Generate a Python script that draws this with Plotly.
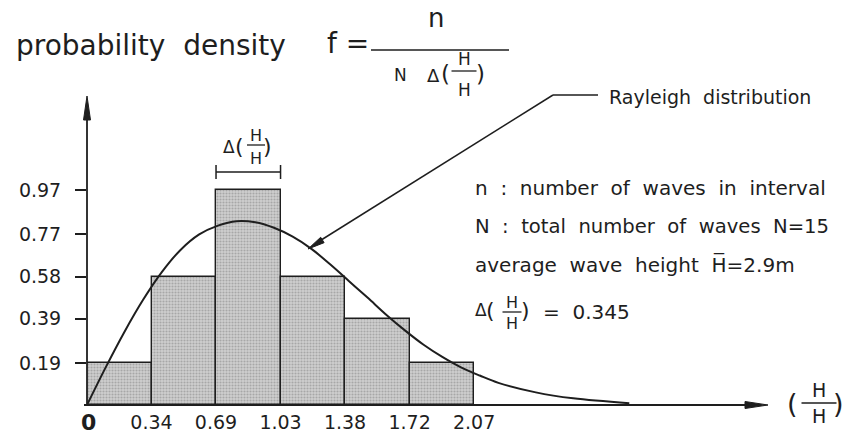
import plotly.graph_objects as go

# ---------------- data ----------------
bin_edges = [0.0, 0.345, 0.69, 1.035, 1.38, 1.725, 2.07]
x_tick_labels = ["0.34", "0.69", "1.03", "1.38", "1.72", "2.07"]
bar_heights = [0.19, 0.58, 0.97, 0.58, 0.39, 0.19]
y_tick_vals = [0.19, 0.39, 0.58, 0.77, 0.97]
y_tick_labels = ["0.19", "0.39", "0.58", "0.77", "0.97"]
curve_x = [0, 0.1, 0.2, 0.3, 0.4, 0.5, 0.6, 0.7, 0.8, 0.9, 1.0, 1.1, 1.2, 1.3,
           1.4, 1.5, 1.6, 1.7, 1.8, 1.9, 2.0, 2.1, 2.2, 2.4, 2.6, 2.9]
curve_y = [0, 0.17, 0.33, 0.475, 0.60, 0.70, 0.77, 0.81, 0.83, 0.825, 0.80, 0.76,
           0.705, 0.635, 0.56, 0.485, 0.408, 0.337, 0.272, 0.217, 0.17, 0.133,
           0.10, 0.057, 0.03, 0.008]

# ---------------- geometry helpers ----------------
W, H = 846, 434
ML, MB = 87, 29
PW, PH = W - ML, H - MB
XS, YS = 187.0, 221.5  # px per data unit


def P(px, py):
    return (px - ML) / PW, (H - MB - py) / PH


FONT = "DejaVu Sans"
INK = "#1e1e1e"

centers = [(a + b) / 2 for a, b in zip(bin_edges[:-1], bin_edges[1:])]
delta = bin_edges[1] - bin_edges[0]

fig = go.Figure()
fig.add_trace(go.Bar(
    x=centers, y=bar_heights, width=delta,
    marker=dict(color="#c6c6c6", line=dict(color=INK, width=1.4),
                pattern=dict(shape=".", fgcolor="#808080", bgcolor="#cfcfcf",
                             size=3, solidity=0.4)),
    hoverinfo="skip", showlegend=False))
fig.add_trace(go.Scatter(
    x=curve_x, y=curve_y, mode="lines",
    line=dict(color=INK, width=2, shape="spline", smoothing=1.0),
    hoverinfo="skip", showlegend=False))

annotations = []
shapes = []


def text(s, px, py, size, xanchor="center", bold=False):
    x, y = P(px, py)
    annotations.append(dict(
        text=f"<b>{s}</b>" if bold else s, x=x, y=y, xref="paper", yref="paper",
        xanchor=xanchor, yanchor="middle", showarrow=False,
        font=dict(family=FONT, size=size, color=INK)))


def line(p0, p1, width=1.5):
    x0, y0 = P(*p0)
    x1, y1 = P(*p1)
    shapes.append(dict(type="line", xref="paper", yref="paper",
                       x0=x0, y0=y0, x1=x1, y1=y1,
                       line=dict(color=INK, width=width)))


def arrowhead(tail, tip, length, half):
    dx, dy = tip[0] - tail[0], tip[1] - tail[1]
    n = (dx * dx + dy * dy) ** 0.5
    ux, uy = dx / n, dy / n
    bx, by = tip[0] - ux * length, tip[1] - uy * length
    pts = [tip, (bx - uy * half, by + ux * half), (bx + uy * half, by - ux * half)]
    pp = [P(*p) for p in pts]
    path = "M {},{} L {},{} L {},{} Z".format(*[v for p in pp for v in p])
    shapes.append(dict(type="path", xref="paper", yref="paper", path=path,
                       fillcolor=INK, line=dict(color=INK, width=1)))


def hfrac(xc, ybar, barw, up_dy, low_dy, hsize):
    text("H", xc, ybar - up_dy, hsize)
    text("H", xc, ybar + low_dy, hsize)
    line((xc - barw / 2, ybar), (xc + barw / 2, ybar), 1.3)


NB = "\u00a0"
S2 = NB + NB

# ---- axes (arrows) ----
line((84, 405), (750, 405), 1.8)
arrowhead((84, 405), (768, 405), 23, 3.5)
line((87, 406), (87, 115), 1.8)
arrowhead((87, 405), (87, 96), 24, 3.5)
text("0", 88, 422, 22, bold=True)

# ---- title with fraction ----
text("probability" + S2 + "density", 14, 45, 28, xanchor="left")
text("f" + NB + "=", 325, 44, 28, xanchor="left")
text("n", 436, 18, 26)
line((371, 50), (509, 50), 1.5)
text("N", 400, 75, 17)
text("\u0394", 433, 75, 18)
text("(", 445, 74, 23)
hfrac(464, 71, 25, 12, 19, 17)
text(")", 480, 74, 23)

# ---- bracket above the middle bar ----
bx0, bx1 = ML + bin_edges[2] * XS, ML + bin_edges[3] * XS
line((bx0, 172), (bx1, 172), 1.5)
line((bx0, 165), (bx0, 179), 1.5)
line((bx1, 165), (bx1, 179), 1.5)
text("\u0394", 229, 147, 17)
text("(", 239, 146, 22)
hfrac(256, 145, 18, 10, 13, 16)
text(")", 267, 146, 22)

# ---- Rayleigh pointer ----
line((553, 95), (598, 95), 1.5)
line((553, 95), (318, 242), 1.5)
arrowhead((553, 95), (308, 249), 17, 3.2)
text("Rayleigh" + S2 + "distribution", 607, 97, 19, xanchor="left")

# ---- legend text block ----
text("n" + S2 + ":" + S2 + "number" + S2 + "of" + S2 + "waves" + S2 + "in" + S2 + "interval",
     473, 188, 20, xanchor="left")
text("N" + S2 + ":" + S2 + "total" + S2 + "number" + S2 + "of" + S2 + "waves" + S2 + "N=15",
     473, 226, 19.6, xanchor="left")
text("average" + S2 + "wave" + S2 + "height" + S2 + "H\u0305=2.9m",
     473, 264, 20, xanchor="left")
text("\u0394", 481, 310, 17)
text("(", 491, 310, 22)
hfrac(512, 312, 19, 10, 11, 16)
text(")", 525, 310, 22)
text("=" + S2 + "0.345", 541, 312, 20, xanchor="left")

# ---- x-axis label (H / H-bar) ----
text("(", 792, 403, 27)
hfrac(819, 403, 35, 13, 13, 19)
text(")", 838, 403, 27)

fig.update_layout(
    width=W, height=H, margin=dict(l=ML, r=0, t=0, b=MB, pad=0),
    paper_bgcolor="white", plot_bgcolor="white",
    bargap=0, annotations=annotations, shapes=shapes,
    xaxis=dict(range=[0, PW / XS], showgrid=False, zeroline=False, showline=False,
               tickvals=bin_edges[1:], ticktext=x_tick_labels, ticks="",
               tickfont=dict(family=FONT, size=19, color=INK), ticklabelstandoff=4,
               fixedrange=True),
    yaxis=dict(range=[0, PH / YS], showgrid=False, zeroline=False, showline=False,
               tickvals=y_tick_vals, ticktext=y_tick_labels, ticks="outside",
               ticklen=11, tickwidth=1.5, tickcolor=INK,
               tickfont=dict(family=FONT, size=19, color=INK), ticklabelstandoff=10,
               fixedrange=True),
)

fig.write_html("out.html", config={"displayModeBar": False},
               post_script="document.body.style.margin='0';document.body.style.padding='0';")
